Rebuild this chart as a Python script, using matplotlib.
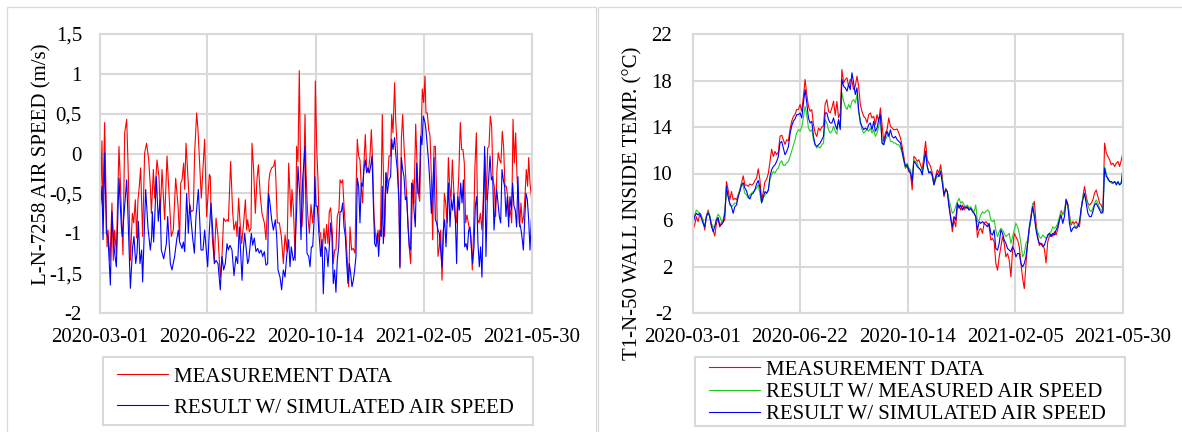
import numpy as np
import pandas as pd
import matplotlib
matplotlib.use("Agg")
import matplotlib.pyplot as plt
from matplotlib.patches import Rectangle

plt.rcParams['font.family'] = ['Liberation Serif', 'DejaVu Serif']

START = pd.Timestamp('2020-03-01')
END = pd.Timestamp('2021-05-30')
tick_labels = ['2020-03-01', '2020-06-22', '2020-10-14', '2021-02-05', '2021-05-30']

# ---------------- Left panel: air speed (m/s) ----------------
meas_speed_days = [
    0.0, 2.1, 2.8, 4.9, 7.4, 8.4, 10.5, 12.6, 14.0, 15.4, 17.2, 20.0, 21.1, 24.2, 26.0, 28.1, 29.5, 32.0,
    34.1, 35.5, 37.2, 38.6, 40.0, 41.4, 42.8, 44.9, 47.0, 49.1, 51.3, 53.0, 54.1, 56.2, 57.6, 60.0, 62.1,
    63.5, 65.3, 67.1, 68.1, 70.6, 75.1, 77.2, 79.7, 82.2, 83.9, 85.0, 86.4, 88.1, 89.2, 90.6, 92.0, 94.1,
    96.2, 98.3, 99.7, 101.8, 103.2, 106.7, 110.2, 112.3,
    115.2, 116.2, 116.9, 118.7, 120.4, 122.2, 124.3, 126.7, 128.5, 130.2, 132.0, 133.8, 135.2, 137.6,
    139.7, 141.1, 143.2, 144.3, 146.0, 147.8, 149.2, 151.3, 153.1, 154.5, 155.5, 157.3, 159.0, 160.1,
    161.8, 163.6, 165.3, 166.8, 168.9, 170.6, 173.1, 174.8, 176.6, 178.0, 179.0, 180.8, 182.9, 184.3,
    185.4, 186.8, 188.9, 191.0, 193.1, 194.9, 197.0, 198.7, 201.2, 202.2, 203.6, 205.7, 207.1, 208.5,
    209.9, 211.3, 212.7, 214.2, 215.9, 217.0, 218.7, 220.5, 222.2, 224.0, 225.7, 226.8,
    228.2, 229.6, 231.0, 232.4, 233.8, 235.9, 237.3, 238.7, 240.1, 241.5, 242.9, 244.7, 245.7, 247.1,
    248.5, 249.9, 251.7, 252.8, 254.2, 255.6, 257.0, 258.7, 260.5, 261.9, 263.3, 265.0, 266.8, 268.6,
    269.6, 271.0, 272.4, 273.8, 275.2, 276.6, 278.0, 279.4, 280.8, 282.6, 284.4, 285.8, 287.2, 288.6,
    290.0, 291.4, 292.8, 294.2, 295.6, 297.3, 298.4, 299.8, 301.2, 302.6, 304.4, 306.1, 307.2, 308.6,
    310.3, 311.4, 313.1, 314.9, 315.9, 317.4, 318.8, 320.2, 321.6, 323.0, 324.4, 325.8, 327.2, 328.6,
    329.6, 330.7, 332.5, 333.9, 335.3, 336.7, 338.1, 339.5, 340.9, 342.3,
    343.3, 344.7, 346.2, 347.6, 349.0, 350.4, 351.8, 353.2, 354.6, 356.0, 357.4, 358.8, 360.2, 361.6,
    362.7, 364.1, 365.5, 366.9, 368.3, 369.7, 371.1, 372.5, 373.9, 375.3, 376.7, 377.7, 379.5, 380.9,
    382.3, 383.7, 385.1, 386.5, 387.9, 389.3, 390.7, 392.1, 393.5, 394.9, 396.4, 397.8, 399.2, 400.6,
    402.3, 404.1, 405.5, 406.9, 408.3, 409.7, 411.1, 412.5, 413.9, 415.3, 416.7, 418.1, 419.5, 420.9,
    422.3, 423.7, 425.1, 426.5, 427.9, 429.4, 430.8, 432.2, 433.6, 435.0, 436.4, 437.8, 439.2, 440.6,
    442.0, 443.4, 444.8, 446.2, 447.6, 449.0, 450.4, 451.5, 452.9, 454.3, 455.0]
meas_speed = [
    -0.77, 0.16, -0.79, 0.39, -1.17, -0.96, -1.34, -0.62, -1.34, -0.96, -1.25, 0.09, -0.24, -1.27, 0.26, 0.43, -0.12, -1.34,
    -0.75, -0.87, -0.58, -1.06, -0.58, -0.41, -0.18, -1.04, 0.01, 0.13, -0.08, -0.41, -0.75, -0.20, -0.56, -0.08, -0.29,
    -0.75, -0.20, -0.60, -0.83, -0.03, -1.04, -0.96, -0.31, -0.66, -1.08, -0.37, -0.33, -0.12, -0.45, 0.13, -0.16, -0.62,
    -0.73, -0.71, 0.01, 0.51, 0.30, -0.56, 0.18, -0.79,
    -0.26, -0.29, -0.73, -1.13, -1.34, -0.81, -1.04, -1.55, -1.29, -0.81, -0.85, -0.83, -0.85, -0.10,
    -0.73, -0.96, -0.85, -1.04, -0.56, -0.92, -1.13, -0.87, -0.58, -0.96, -0.83, -0.98, -0.94, 0.13,
    -0.20, -0.75, -0.33, -0.14, -0.54, -0.75, -0.87, -1.08, -0.62, -0.33, -0.24, -0.18, -0.16, -0.08,
    -0.37, -0.87, -0.87, -1.04, -1.38, -1.02, -1.23, -0.12, -0.79, -0.45, -0.66, -1.34, 0.09, -0.10,
    1.04, -0.24, -0.92, -0.62, 0.49, -0.24, -0.75, -1.00, -0.64, -0.87, -0.62, 0.91,
    0.09, -0.33, -0.98, -1.00, -1.29, -0.94, -1.13, -0.89, -1.13, -0.73, -0.68, -1.00, -1.38, -1.21,
    -1.21, -0.79, -0.71, -0.33, -0.37, -0.33, -0.66, -0.96, -1.34, -1.67, -0.92, -1.21, -1.19, -1.25,
    -0.50, 0.18, -0.03, -0.08, -0.41, -0.62, -0.12, 0.24, -0.16, -0.24, -0.03, 0.30, -0.12, -0.79,
    -1.00, -1.13, -0.96, -1.13, -0.87, 0.49, -0.16, -1.04, -0.24, -0.37, -0.03, -0.03, 0.49, 0.26,
    0.89, 0.43, 0.07, -0.62, -1.44, 0.18, 0.49, 0.09, -0.20, -0.54, -0.87, -1.19, -1.38, -0.71,
    -0.33, -0.62, 0.37, -0.12, -0.50, -0.60, 0.18, 0.81, 0.64, 0.97,
    0.51, 0.51, 0.30, 0.22, -0.29, -1.08, 0.09, 0.09, -0.54, -1.29, -1.17, -0.96, -1.59, -1.04,
    -0.50, -0.62, -0.87, -0.05, -0.41, -0.58, -0.08, -0.45, -0.79, -0.87, -0.54, -0.33, 0.39, 0.05,
    0.05, -0.12, -0.87, -0.77, -0.87, -0.96, -1.04, -1.46, -0.96, -0.16, 0.26, -0.83, -0.87, -0.75,
    -0.96, -0.45, -0.03, -0.58, 0.07, 0.09, 0.47, 0.34, -0.33, -0.41, -0.79, -0.20, 0.01, -0.08,
    -0.12, 0.28, 0.09, -0.41, -0.41, -0.54, -0.79, -0.71, -0.87, 0.43, -0.12, 0.26, -0.29, -0.58,
    -0.92, -0.62, -0.87, -0.79, -0.54, -0.20, -0.41, -0.05, -0.37, -0.54, -0.62]

sim_speed_days = [
    0.0, 2.1, 3.2, 4.9, 6.7, 8.4, 10.9, 12.6, 14.7, 17.2, 20.0, 22.5, 23.5, 28.1, 29.5, 32.0, 34.4, 35.8,
    37.6, 39.0, 40.4, 42.1, 43.9, 44.9, 47.0, 48.1, 50.6, 53.0, 54.4, 55.1, 56.5, 58.3, 59.3, 61.4, 63.2,
    64.6, 67.1, 69.9, 71.3, 74.1, 75.8, 78.6, 80.8, 82.5, 83.9, 86.4, 87.8, 89.2, 91.3, 93.0, 94.4, 97.6,
    99.4, 101.1, 103.6, 106.4, 108.5, 110.2,
    113.4, 115.2, 116.9, 118.7, 120.4, 122.2, 124.3, 126.7, 128.5, 130.2, 132.0, 133.8, 135.2, 136.9,
    139.0, 141.1, 143.2, 145.0, 146.7, 148.2, 149.6, 151.0, 152.4, 153.8, 155.5, 156.6, 158.0, 159.4,
    160.8, 162.5, 164.3, 166.1, 167.8, 169.6, 171.3, 173.1, 174.8, 176.6, 177.6, 179.0, 180.8, 182.6,
    184.7, 186.1, 187.5, 189.6, 191.3, 193.1, 194.9, 196.6, 198.7, 200.1, 201.5, 203.6, 205.0, 207.1,
    208.5, 210.3, 211.7, 213.4, 215.9, 217.0, 218.0, 219.8, 221.2, 222.6, 224.0, 225.7,
    226.4, 227.5, 228.9, 230.6, 232.4, 233.8, 235.2, 237.0, 238.7, 240.1, 241.5, 242.9, 244.3, 245.7,
    247.1, 248.5, 249.9, 251.4, 252.8, 254.2, 255.6, 257.0, 258.4, 259.8, 261.2, 262.6, 264.0, 265.4,
    266.8, 268.2, 269.6, 271.0, 272.4, 273.8, 275.2, 276.6, 278.0, 279.4, 280.8, 282.3, 283.7, 285.1,
    286.5, 287.9, 289.3, 290.7, 292.1, 293.5, 294.9, 296.3, 297.3, 298.4, 299.8, 301.2, 302.6, 304.4,
    306.1, 307.2, 308.6, 310.3, 311.4, 313.1, 314.9, 315.9, 317.4, 318.8, 320.2, 321.6, 323.0, 324.4,
    325.8, 327.2, 328.2, 329.6, 330.7, 332.1, 333.5, 334.9, 336.3, 337.7, 339.1, 340.5, 342.3,
    343.3, 344.7, 346.2, 347.6, 349.0, 350.4, 351.8, 353.2, 354.6, 356.0, 357.4, 358.8, 360.2, 361.6,
    363.0, 364.4, 365.8, 367.2, 368.6, 370.0, 371.4, 372.8, 374.2, 375.6, 377.0, 378.4, 379.9, 381.3,
    382.7, 384.1, 385.5, 386.9, 388.3, 389.7, 391.1, 392.5, 393.9, 395.3, 396.7, 398.1, 399.5, 400.9,
    402.3, 403.7, 405.1, 406.5, 407.9, 409.3, 410.8, 412.2, 413.6, 415.0, 416.4, 417.8, 419.2, 420.6,
    422.0, 423.4, 424.8, 426.2, 427.6, 429.0, 430.4, 431.8, 433.2, 434.6, 436.0, 437.4, 438.8, 440.2,
    441.6, 443.0, 444.4, 445.9, 447.3, 448.7, 450.1, 451.5, 452.9, 454.3, 455.0]
sim_speed = [
    -0.75, -0.41, -1.08, 0.01, -1.00, -1.04, -1.65, -0.73, -1.17, -1.42, -0.31, -0.92, -1.04, -0.33, -0.79, -1.69, -1.17, -1.04,
    -1.38, -1.25, -0.85, -1.38, -1.21, -1.61, -0.85, -0.45, -0.94, -1.21, -1.04, -0.73, -1.11, -0.62, -0.29, -0.85, -0.58,
    -1.21, -1.32, -1.13, -0.79, -1.38, -1.46, -1.29, -1.08, -0.96, -1.11, -1.19, -1.11, -1.23, -0.50, -1.00, -0.64, -1.06,
    -1.25, -0.79, -0.45, -1.21, -1.21, -0.96,
    -1.42, -0.96, -0.62, -0.96, -1.38, -1.34, -1.38, -1.71, -1.29, -1.46, -1.38, -1.13, -1.21, -1.15,
    -1.21, -1.53, -1.29, -1.38, -0.92, -1.25, -1.59, -1.21, -1.00, -1.17, -1.38, -1.34, -1.17, -1.00,
    -1.15, -1.06, -1.23, -1.19, -1.25, -1.21, -1.29, -1.23, -1.40, -1.38, -0.50, -0.62, -0.83, -0.96,
    -0.83, -1.04, -1.46, -1.55, -1.71, -1.46, -1.55, -1.29, -1.08, -1.42, -1.17, -1.34, -1.29, -0.71,
    -0.16, -0.50, -1.08, -0.33, 0.09, -0.71, -1.25, -1.29, -1.42, -1.17, -1.17, -0.79,
    -0.29, -0.66, -0.66, -1.00, -1.29, -1.08, -1.76, -1.17, -1.21, -1.42, -1.17, -0.87, -1.04, -1.63,
    -1.46, -1.74, -1.34, -1.17, -0.73, -0.73, -0.62, -0.92, -1.04, -1.38, -1.63, -1.38, -1.50, -1.67,
    -1.59, -1.46, -1.29, -0.31, -0.41, -0.87, -0.37, -0.41, -0.20, -0.08, -0.24, -0.18, -0.24, -0.16,
    -0.03, -0.62, -1.13, -1.17, -1.00, -1.29, -0.96, -1.04, -0.41, -1.13, -0.83, -0.24, -0.50, -0.33,
    -0.29, 0.18, 0.05, 0.20, 0.01, -0.20, -0.62, -1.42, -0.05, -0.20, -0.29, -0.58, -0.54, -0.92,
    -1.17, -1.21, -0.37, -0.41, -0.71, -0.92, -0.12, -0.50, -0.50, 0.22, 0.11, 0.47, 0.39,
    0.30, 0.09, -0.12, -0.41, -0.75, -0.45, -0.05, -0.83, -0.87, -0.96, -1.00, -1.21, -1.42, -0.96,
    -0.83, -1.17, -0.79, -0.37, -0.92, -0.58, -0.71, -0.50, -0.79, -1.38, -0.54, -0.71, -0.37, -0.62,
    -0.33, -1.17, -1.13, -1.21, -0.96, -0.92, -1.17, -1.38, -1.17, -0.66, -0.54, -1.13, -1.42, -1.17,
    -1.55, -0.71, 0.09, -1.29, -0.58, -0.33, -0.03, -0.33, -0.29, -0.96, -0.66, -0.45, -0.62, -0.79,
    -0.87, -0.20, -0.33, -0.41, -0.79, -0.54, -0.92, -0.54, -0.71, -0.37, -0.66, -0.71, -0.92, -0.29,
    -0.87, -0.92, -1.04, -1.21, -0.83, -0.50, -0.58, -0.83, -1.21, -0.83, -1.17]

# ---------------- Right panel: wall inside temperature (°C) ----------------
meas_temp = [
    5.19, 5.57, 6.29, 5.86, 6.43, 6.29, 6.0, 5.14, 6.29, 6.86,
    6.29, 5.42, 5.14, 4.62, 5.7, 6.2, 5.4, 5.8, 5.86, 6.0,
    9.31, 8.59, 7.73, 8.45, 7.73, 7.87, 7.73, 8.16, 8.59, 9.17,
    9.8, 9.0, 9.0, 8.9, 9.1, 9.0, 9.1, 9.4, 9.6, 10.4,
    9.45, 7.73, 8.4, 9.3, 9.5, 10.0, 11.0, 12.1, 11.47, 11.9,
    11.61, 11.85, 13.2, 13.3, 12.9, 12.5, 12.91, 12.8, 13.8, 14.5,
    14.9, 15.1, 15.5, 15.5, 15.93, 15.35, 16.65, 18.09, 16.79, 15.78,
    15.35, 15.5, 14.2, 13.48, 13.19, 13.91, 13.7, 14.0, 14.1, 16.0,
    16.36, 15.35, 15.21, 15.64, 16.22, 15.0, 16.2,
    14.78, 15.21, 18.95, 17.8, 18.09, 18.23, 17.51, 18.09, 17.94, 17.22,
    17.51, 18.37, 17.51, 15.93, 15.35, 14.92, 14.78, 14.35, 15.06, 15.21,
    14.78, 14.92, 14.2, 15.06, 14.49, 15.64, 14.2, 12.76, 13.48, 13.77,
    14.78, 14.06, 13.91, 13.77, 13.77, 13.83, 13.48, 13.05, 12.33, 11.47,
    10.46, 10.6, 10.17, 10.03, 8.59, 11.47, 11.33, 11.04, 11.18, 10.75,
    10.32, 11.47, 12.76, 11.18, 10.89, 10.6, 10.03, 9.17, 9.74, 10.32,
    10.03, 10.75, 9.74, 8.01, 8.73, 8.45, 7.29, 6.29, 4.99, 6.0,
    5.42, 7.15, 7.29, 6.86, 7.29, 6.86, 7.15, 7.01, 6.86, 7.01,
    6.86, 6.58, 6.29, 4.5,
    5.14, 5.28, 4.85, 5.71, 5.86, 5.71, 5.42, 4.27, 4.42, 4.13,
    2.26, 1.68, 2.83, 3.7, 4.56, 3.99, 2.83, 3.12, 2.55, 1.11,
    3.41, 4.85, 4.56, 4.27, 3.7, 2.26, 1.0, 0.1, 2.2, 4.0,
    5.2, 6.4, 7.2, 7.6, 5.8, 4.6, 3.8, 4.0, 3.9, 3.5,
    2.3, 4.1, 4.6, 4.8, 4.6, 5.0, 4.7, 5.2, 6.0, 6.8,
    6.5, 6.7, 7.8, 7.4, 6.43, 5.57, 5.86, 5.71, 5.86, 5.57,
    5.42, 6.86, 8.01, 8.88, 8.01, 7.44, 7.29, 7.44, 7.73, 8.3,
    8.59, 8.01, 7.44, 7.29, 6.86, 12.62, 11.76, 11.47, 11.18, 10.75,
    10.89, 10.6, 10.89, 11.04, 10.6, 11.18, 11.81]

temp_meas_air = [
    6.0, 6.43, 6.86, 6.72, 6.58, 6.43, 5.86, 5.42, 6.29, 6.72,
    6.43, 5.71, 5.42, 5.42, 6.14, 6.5, 6.3, 5.9, 6.0, 6.8,
    8.4, 8.01, 7.29, 7.15, 7.29, 7.44, 7.44, 8.01, 8.59, 9.17,
    8.88, 8.3, 8.16, 7.87, 8.16, 8.3, 8.45, 8.59, 8.73, 9.02,
    8.3, 7.44, 7.87, 8.16, 8.3, 8.59, 9.45, 9.88, 10.17, 10.03,
    10.32, 10.46, 10.89, 11.1, 10.7, 10.7, 10.9, 11.04, 11.47, 11.95,
    12.4, 12.9, 13.5, 13.77, 13.65, 14.0, 14.8, 15.78, 15.06, 13.91,
    13.63, 13.77, 12.91, 12.47, 12.19, 12.33, 12.19, 12.47, 12.62, 14.63,
    14.35, 13.77, 13.48, 13.63, 14.06, 13.63, 13.4,
    14.63, 14.06, 16.94, 16.22, 15.78, 15.5, 15.93, 15.64, 16.22, 16.36,
    16.07, 16.79, 15.21, 14.63, 13.77, 13.48, 13.63, 13.77, 13.63, 13.91,
    13.48, 13.77, 13.19, 13.48, 14.06, 14.78, 12.62, 12.47, 12.91, 13.19,
    13.48, 12.76, 12.76, 12.62, 12.62, 12.47, 12.47, 12.19, 11.76, 11.04,
    10.46, 10.89, 10.46, 10.32, 9.45, 11.18, 11.04, 10.89, 10.46, 10.32,
    10.03, 11.04, 11.76, 10.6, 10.17, 10.03, 9.74, 9.02, 9.45, 9.74,
    9.74, 10.32, 9.45, 8.3, 8.59, 8.45, 7.73, 7.15, 6.58, 6.72,
    7.15, 7.58, 7.87, 7.44, 7.58, 7.29, 7.15, 7.29, 7.01, 7.15,
    6.86, 6.72, 7.29, 5.86,
    6.0, 6.43, 6.72, 6.58, 6.72, 6.86, 6.72, 6.0, 5.86, 6.0,
    5.14, 4.56, 4.99, 5.28, 5.14, 4.85, 4.56, 4.71, 4.85, 3.99,
    4.56, 5.14, 5.71, 5.42, 4.85, 3.99, 2.83, 3.12, 3.99, 4.27,
    5.14, 6.14, 7.44, 6.43, 5.42, 4.99, 4.56, 4.42, 4.71, 4.56,
    4.42, 4.56, 4.85, 4.99, 5.42, 5.28, 5.42, 5.71, 6.29, 6.72,
    6.43, 6.86, 7.44, 7.29, 6.29, 5.71, 5.71, 5.57, 5.42, 5.57,
    5.71, 6.86, 8.01, 8.3, 7.73, 7.29, 6.86, 6.72, 7.01, 7.44,
    7.73, 7.44, 7.01, 6.86, 6.58, 10.6, 10.03, 9.45, 9.31, 9.17,
    9.17, 9.31, 9.17, 9.17, 9.02, 9.31, 10.32]

temp_sim_air = [
    5.71, 6.29, 6.58, 6.43, 6.58, 6.14, 5.71, 5.42, 6.29, 6.63,
    6.29, 5.57, 4.99, 5.42, 6.0, 6.2, 5.5, 5.6, 5.8, 6.5,
    8.88, 8.01, 7.44, 7.15, 6.58, 7.15, 7.29, 8.01, 8.45, 9.02,
    9.2, 8.75, 8.5, 8.0, 7.8, 8.2, 8.3, 8.6, 9.1, 9.4,
    8.8, 7.5, 8.01, 8.45, 8.3, 8.55, 9.74, 10.32, 10.6, 10.75,
    11.04, 11.47, 12.62, 12.76, 12.19, 11.61, 11.9, 12.3, 13.4, 14.1,
    14.5, 14.7, 15.06, 15.06, 15.21, 14.78, 16.07, 17.22, 16.07, 14.78,
    14.35, 14.49, 13.19, 12.47, 12.33, 12.47, 12.62, 12.91, 13.19, 15.21,
    15.21, 14.63, 14.35, 14.35, 14.78, 14.2, 13.8,
    14.63, 13.77, 18.09, 17.51, 17.37, 17.08, 17.65, 17.22, 18.66, 17.8,
    16.79, 17.37, 15.5, 14.35, 14.06, 13.77, 13.91, 13.77, 14.2, 14.35,
    13.77, 14.49, 13.63, 13.91, 14.63, 15.06, 12.62, 12.47, 13.19, 13.63,
    13.19, 13.77, 13.19, 13.05, 13.19, 12.91, 12.76, 12.62, 11.9, 11.18,
    10.6, 10.75, 10.32, 10.03, 9.31, 11.04, 10.89, 10.6, 10.46, 10.32,
    9.88, 10.89, 11.9, 10.6, 10.03, 10.17, 9.88, 9.02, 9.6, 10.03,
    9.74, 10.17, 9.17, 8.16, 8.59, 8.45, 7.15, 6.14, 5.42, 6.29,
    6.0, 7.44, 7.01, 7.29, 6.86, 7.15, 7.01, 7.15, 6.86, 7.01,
    6.72, 6.58, 6.29, 5.14,
    5.86, 5.71, 5.86, 5.71, 5.57, 5.42, 5.71, 4.85, 4.71, 5.14,
    3.55, 3.41, 3.99, 5.14, 4.85, 4.27, 3.99, 3.55, 3.41, 3.27,
    3.7, 3.41, 2.83, 3.12, 3.12, 2.26, 1.97, 2.26, 2.83, 3.99,
    5.42, 6.14, 7.15, 6.29, 5.14, 4.42, 3.99, 3.99, 3.7, 3.84,
    4.27, 4.71, 4.85, 4.56, 4.85, 4.71, 5.14, 5.42, 6.0, 6.43,
    5.71, 6.29, 7.73, 7.29, 5.71, 4.99, 5.28, 5.42, 5.28, 5.42,
    5.86, 7.01, 7.73, 8.3, 7.44, 6.58, 6.29, 6.29, 6.72, 7.29,
    7.44, 7.15, 6.86, 6.58, 6.72, 10.46, 9.74, 9.6, 9.31, 9.31,
    9.17, 9.31, 9.02, 9.31, 9.02, 9.17, 10.6]

speed_ticks = [-2, -1.5, -1, -0.5, 0, 0.5, 1, 1.5]
temp_ticks = [-2, 2, 6, 10, 14, 18, 22]

RED = '#ff0000'
BLUE = '#0000ff'
GREEN = '#22cc22'
GRID = '#d9d9d9'

W, H = 1182, 432
fig = plt.figure(figsize=(W / 100, H / 100), dpi=100)


def to_dates(days):
    return START + pd.to_timedelta(np.asarray(days, dtype=float), unit='D')


def even_dates(n):
    return pd.to_datetime(np.linspace(START.value, END.value, n))


def style_axes(ax, yticks, ylabels, ypad):
    ax.set_xlim(START, END)
    ax.set_xticks(pd.to_datetime(tick_labels))
    ax.set_xticklabels(tick_labels)
    ax.set_ylim(yticks[0], yticks[-1])
    ax.set_yticks(yticks)
    ax.set_yticklabels(ylabels)
    ax.grid(True, color=GRID, linewidth=1.5)
    ax.set_axisbelow(True)
    for s in ax.spines.values():
        s.set_color(GRID)
        s.set_linewidth(1.5)
    ax.tick_params(axis='both', length=0, labelsize=15)
    ax.tick_params(axis='x', pad=11)
    ax.tick_params(axis='y', pad=ypad)


def fmt(v):
    return ('%g' % v).replace('.', ',')


# panel frames
fig.patches.append(Rectangle((7 / W, -0.1), (596 - 7) / W, 1.1 - 7 / H,
                             transform=fig.transFigure, fill=False, ec=GRID, lw=0.9))
fig.patches.append(Rectangle((598 / W, -0.1), 0.6, 1.1 - 7 / H,
                             transform=fig.transFigure, fill=False, ec=GRID, lw=0.9))

# left
ax1 = fig.add_axes([100 / W, 1 - 313 / H, 432 / W, 279 / H])
l1, = ax1.plot(to_dates(meas_speed_days), meas_speed, color=RED, lw=0.8)
l2, = ax1.plot(to_dates(sim_speed_days), sim_speed, color=BLUE, lw=0.8)
style_axes(ax1, speed_ticks, [fmt(v) for v in speed_ticks], 13)
fig.text(42 / W, 1 - 164.5 / H, 'L-N-7258 AIR SPEED (m/s)', rotation=90,
         ha='center', va='center', fontsize=15)

# right
ax2 = fig.add_axes([693 / W, 1 - 313 / H, 430 / W, 279 / H])
r1, = ax2.plot(even_dates(len(meas_temp)), meas_temp, color=RED, lw=0.8)
r2, = ax2.plot(even_dates(len(temp_meas_air)), temp_meas_air, color=GREEN, lw=0.8)
r3, = ax2.plot(even_dates(len(temp_sim_air)), temp_sim_air, color=BLUE, lw=0.8)
style_axes(ax2, temp_ticks, [str(v) for v in temp_ticks], 15)
fig.text(633 / W, 1 - 203.5 / H, 'T1-N-50 WALL INSIDE TEMP. (°C)', rotation=90,
         ha='center', va='center', fontsize=15)

# legends
fig.patches.append(Rectangle((102.6 / W, 1 - 425 / H), 430 / W, 68 / H,
                             transform=fig.transFigure, fill=False, ec=GRID, lw=1.5))
fig.patches.append(Rectangle((694.6 / W, 1 - 426 / H), 430.4 / W, 69 / H,
                             transform=fig.transFigure, fill=False, ec=GRID, lw=1.5))

fig.legend([l1, l2], ['MEASUREMENT DATA', 'RESULT W/ SIMULATED AIR SPEED'],
           loc='upper left', bbox_to_anchor=(117 / W, 1 - 367 / H),
           bbox_transform=fig.transFigure, frameon=False, fontsize=15,
           borderpad=0, borderaxespad=0, handlelength=2.45, handletextpad=0.29,
           labelspacing=0.55)
fig.legend([r1, r2, r3], ['MEASUREMENT DATA', 'RESULT W/ MEASURED AIR SPEED',
                          'RESULT W/ SIMULATED AIR SPEED'],
           loc='upper left', bbox_to_anchor=(709 / W, 1 - 360 / H),
           bbox_transform=fig.transFigure, frameon=False, fontsize=15,
           borderpad=0, borderaxespad=0, handlelength=2.45, handletextpad=0.29,
           labelspacing=0.13)

fig.savefig('out.png', dpi=100)
